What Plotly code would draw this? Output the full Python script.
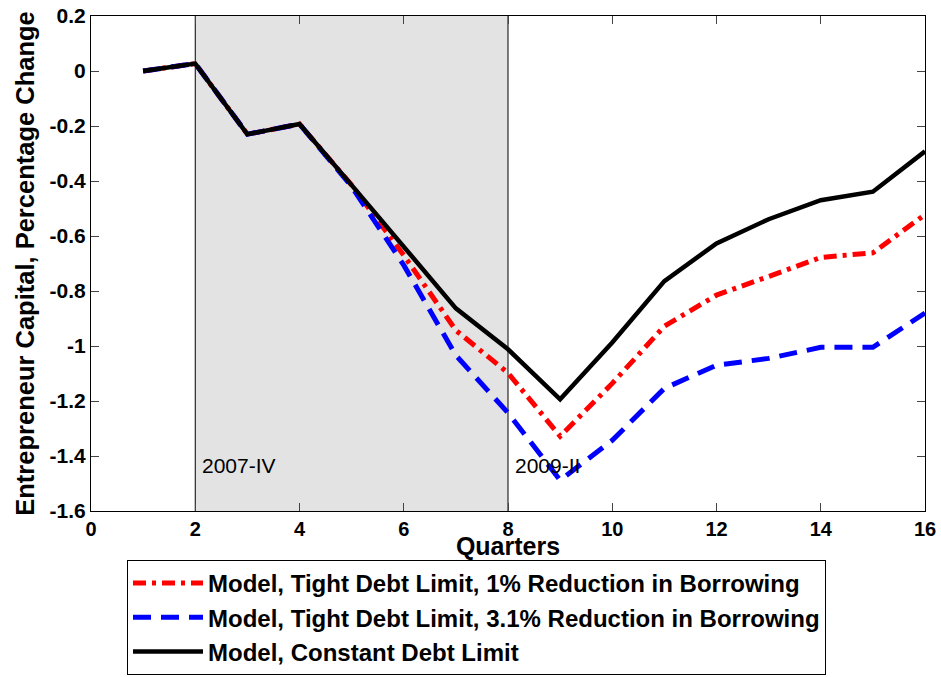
import plotly.graph_objects as go

quarters = list(range(1, 17))

# Percentage change in entrepreneur capital under each scenario
tight_1pct = [0.0, 0.027, -0.23, -0.193, -0.415, -0.67, -0.943, -1.098, -1.328,
              -1.136, -0.928, -0.815, -0.747, -0.678, -0.661, -0.522]
tight_31pct = [0.0, 0.027, -0.23, -0.193, -0.42, -0.706, -1.034, -1.243, -1.488,
               -1.343, -1.154, -1.07, -1.045, -1.005, -1.005, -0.88]
constant = [0.0, 0.027, -0.23, -0.193, -0.415, -0.64, -0.863, -1.012, -1.194,
            -0.987, -0.764, -0.627, -0.539, -0.47, -0.439, -0.292]

series_names = [
    "Model, Tight Debt Limit, 1% Reduction in Borrowing",
    "Model, Tight Debt Limit, 3.1% Reduction in Borrowing",
    "Model, Constant Debt Limit",
]

recession_start, recession_end = 2, 8
recession_labels = ["2007-IV", "2009-II"]

y_ticks = [0.2, 0, -0.2, -0.4, -0.6, -0.8, -1, -1.2, -1.4, -1.6]
y_ticktext = ["0.2", "0", "-0.2", "-0.4", "-0.6", "-0.8", "-1", "-1.2", "-1.4", "-1.6"]
x_ticks = list(range(0, 17, 2))

FONT = "Liberation Sans, Arial, sans-serif"
W, H = 941, 677
LEGEND_TOP = 560  # px from the top of the figure

fig = go.Figure()

fig.add_trace(go.Scatter(x=quarters, y=tight_1pct, mode="lines", name=series_names[0],
                         line=dict(color="#ff0000", width=5, dash="13px,6px,4px,6px")))
fig.add_trace(go.Scatter(x=quarters, y=tight_31pct, mode="lines", name=series_names[1],
                         line=dict(color="#0000ff", width=5, dash="18px,10px")))
fig.add_trace(go.Scatter(x=quarters, y=constant, mode="lines", name=series_names[2],
                         line=dict(color="#000000", width=4.5)))

# Shaded recession period with boundary lines
fig.add_shape(type="rect", xref="x", yref="paper", x0=recession_start, x1=recession_end,
              y0=0, y1=1, fillcolor="#e3e3e3", line=dict(width=0), layer="below")
for xv in (recession_start, recession_end):
    fig.add_shape(type="line", xref="x", yref="paper", x0=xv, x1=xv, y0=0, y1=1,
                  line=dict(color="black", width=1), layer="below")

for xv, label in zip((recession_start, recession_end), recession_labels):
    fig.add_annotation(x=xv, y=-1.435, xref="x", yref="y", text=label, showarrow=False,
                       xanchor="left", xshift=5,
                       font=dict(size=21, color="black", family=FONT))

fig.update_layout(
    width=W, height=H,
    margin=dict(l=91, r=16, t=16, b=166),
    paper_bgcolor="white", plot_bgcolor="white",
    font=dict(family=FONT, color="black"),
    xaxis=dict(range=[0, 16], tickvals=x_ticks, ticks="inside", ticklen=8,
               tickcolor="#444", showline=True, linecolor="black", linewidth=1,
               mirror="ticks", showgrid=False, zeroline=False, automargin=False,
               tickfont=dict(family=FONT, size=20, color="black", weight="bold"),
               title=dict(text="Quarters", standoff=10,
                          font=dict(family=FONT, size=25, color="black", weight="bold"))),
    yaxis=dict(range=[-1.6, 0.2], tickvals=y_ticks, ticktext=y_ticktext,
               ticks="inside", ticklen=8, tickcolor="#444", showline=True,
               linecolor="black", linewidth=1, mirror="ticks", showgrid=False,
               zeroline=False, automargin=False,
               tickfont=dict(family=FONT, size=21, color="black", weight="bold"),
               title=dict(text="Entrepreneur Capital, Percentage Change", standoff=7,
                          font=dict(family=FONT, size=25.5, color="black",
                                    weight="bold"))),
    legend=dict(xref="paper", yref="container", x=36 / 834, y=1 - LEGEND_TOP / H,
                xanchor="left", yanchor="top",
                bordercolor="black", borderwidth=1, bgcolor="white",
                font=dict(family=FONT, size=24, color="black", weight="bold"),
                itemwidth=70, tracegroupgap=0, traceorder="normal"),
)

fig.write_html("out.html")
